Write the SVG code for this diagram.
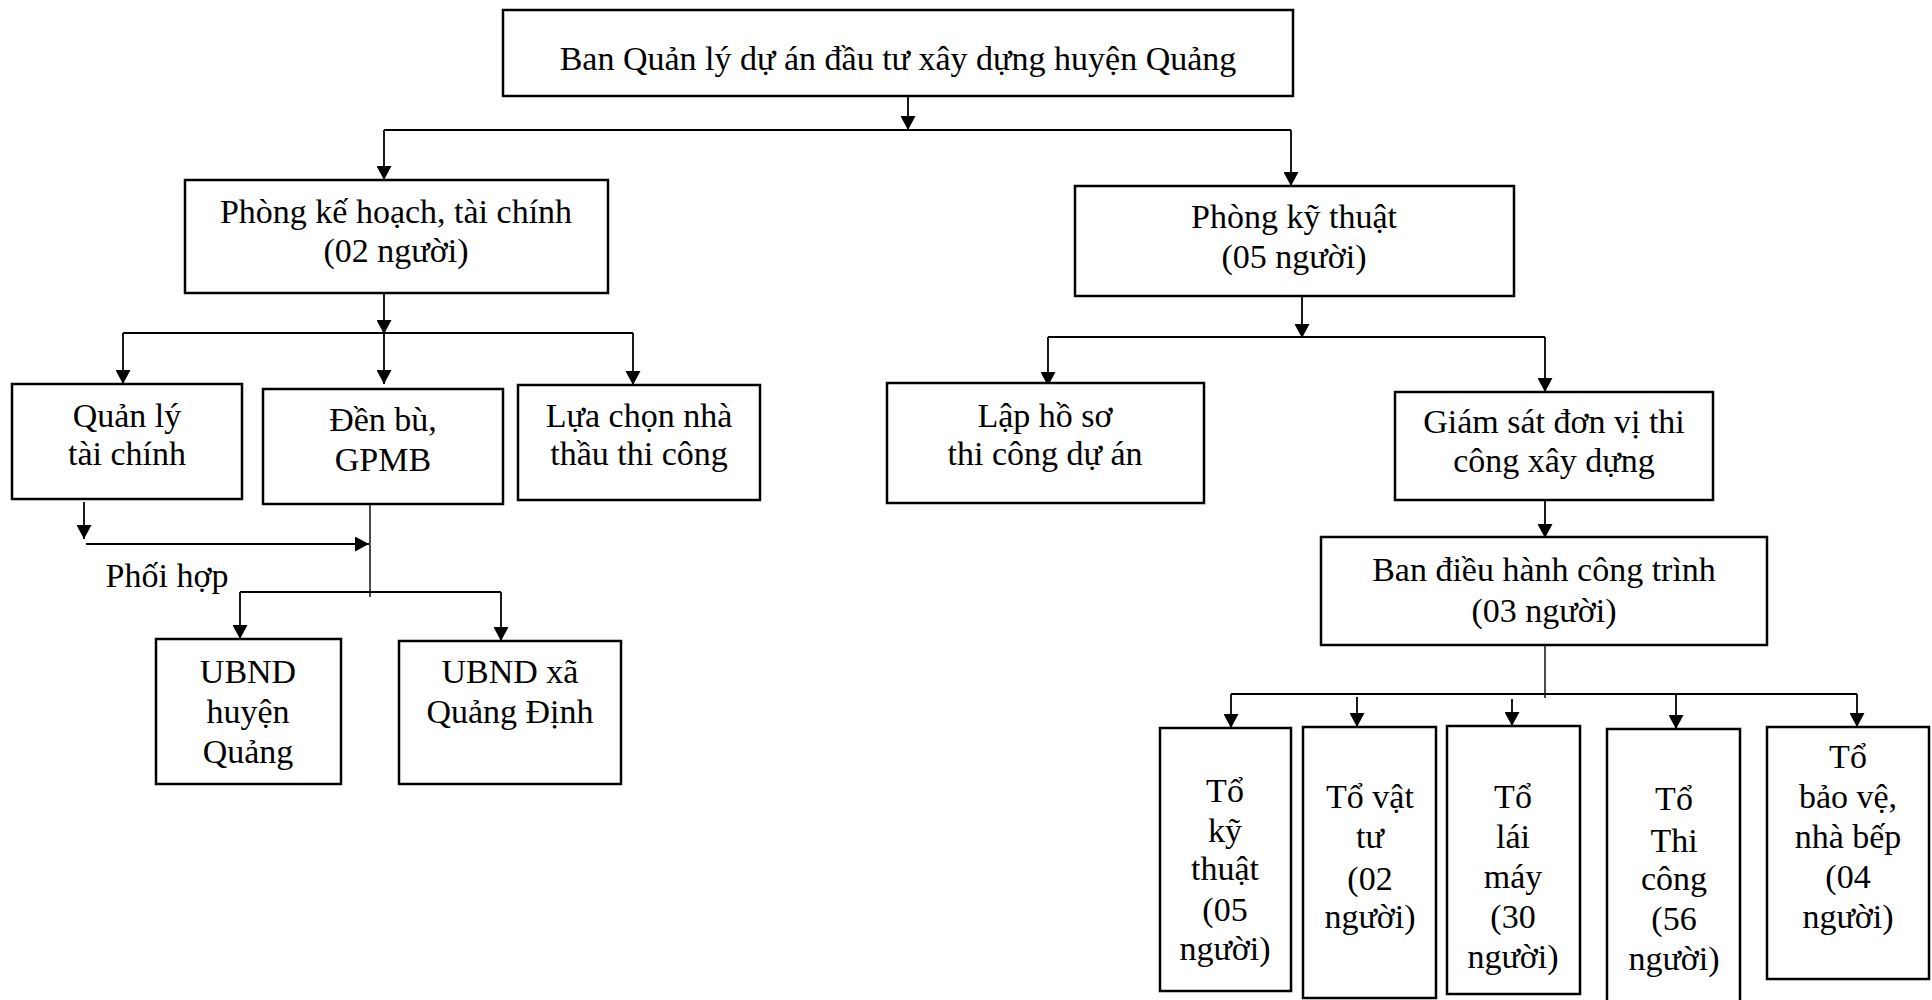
<svg xmlns="http://www.w3.org/2000/svg" width="1932" height="1000" viewBox="0 0 1932 1000">
<style>
.box{fill:#fff;stroke:#000;stroke-width:2.5}
.t{font-family:"Liberation Serif","Times New Roman",serif;font-size:34px;fill:#000;text-anchor:middle}
.c{fill:none;stroke:#000;stroke-width:2.2}
.a{fill:none;stroke:#000;stroke-width:1.8;marker-end:url(#ah)}
.thin{fill:none;stroke:#000;stroke-width:1.4}
</style>
<defs>
<marker id="ah" markerWidth="14" markerHeight="15" refX="14" refY="7.5" orient="auto" markerUnits="userSpaceOnUse" viewBox="0 0 14 15"><path d="M0,0 L14,7.5 L0,15 z" fill="#000"/></marker>
</defs>
<rect width="1932" height="1000" fill="#fff"/>

<g id="connectors">
<line x1="850" y1="86" x2="875" y2="86" stroke="#ccc" stroke-width="1" stroke-dasharray="8,5"/>
<line class="a" x1="908" y1="89" x2="908" y2="130"/>
<polyline class="c" points="384,130 1291,130"/>
<line class="a" x1="384" y1="130" x2="384" y2="180"/>
<line class="a" x1="1291" y1="130" x2="1291" y2="186"/>

<line class="a" x1="384" y1="284" x2="384" y2="334"/>
<polyline class="c" points="123,333 633,333"/>
<line class="a" x1="123" y1="333" x2="123" y2="384"/>
<line class="a" x1="384" y1="333" x2="384" y2="384"/>
<line class="a" x1="633" y1="333" x2="633" y2="385"/>

<line class="a" x1="84" y1="502" x2="84" y2="539"/>
<line class="a" x1="86" y1="544" x2="369" y2="544"/>
<line class="thin" x1="370" y1="504" x2="370" y2="597"/>
<polyline class="c" points="240,592 501,592"/>
<line class="a" x1="240" y1="592" x2="240" y2="639"/>
<line class="a" x1="501" y1="592" x2="501" y2="641"/>

<line class="a" x1="1302" y1="288" x2="1302" y2="338"/>
<polyline class="c" points="1048,337 1545,337"/>
<line class="a" x1="1048" y1="337" x2="1048" y2="386"/>
<line class="a" x1="1545" y1="337" x2="1545" y2="392"/>

<line class="a" x1="1545" y1="500" x2="1545" y2="538"/>
<line class="thin" x1="1545" y1="645" x2="1545" y2="698"/>
<polyline class="c" points="1231,694 1857,694"/>
<line class="a" x1="1231" y1="694" x2="1231" y2="728"/>
<line class="a" x1="1357" y1="697" x2="1357" y2="727"/>
<line class="a" x1="1512" y1="699" x2="1512" y2="726"/>
<line class="a" x1="1676" y1="694" x2="1676" y2="729"/>
<line class="a" x1="1857" y1="694" x2="1857" y2="727"/>
</g>

<g id="n-top"><rect class="box" x="503" y="10" width="790" height="86"/><text class="t" x="898" y="70">Ban Quản lý dự án đầu tư xây dựng huyện Quảng</text></g>

<g id="n-pkh"><rect class="box" x="185" y="180" width="423" height="113"/><text class="t" x="396" y="223">Phòng kế hoạch, tài chính</text><text class="t" x="396" y="262">(02 người)</text></g>

<g id="n-pkt"><rect class="box" x="1075" y="186" width="439" height="110"/><text class="t" x="1294" y="228">Phòng kỹ thuật</text><text class="t" x="1294" y="268">(05 người)</text></g>

<g id="n-qltc"><rect class="box" x="12" y="384" width="230" height="115"/><text class="t" x="127" y="427">Quản lý</text><text class="t" x="127" y="465">tài chính</text></g>

<g id="n-dbgpmb"><rect class="box" x="263" y="389" width="240" height="115"/><text class="t" x="383" y="431">Đền bù,</text><text class="t" x="383" y="471">GPMB</text></g>

<g id="n-lcnt"><rect class="box" x="518" y="385" width="242" height="115"/><text class="t" x="639" y="427">Lựa chọn nhà</text><text class="t" x="639" y="465">thầu thi công</text></g>

<g id="n-phoihop"><text class="t" x="167" y="587">Phối hợp</text></g>

<g id="n-ubndh"><rect class="box" x="156" y="639" width="185" height="145"/><text class="t" x="248" y="683">UBND</text><text class="t" x="248" y="723">huyện</text><text class="t" x="248" y="763">Quảng</text></g>

<g id="n-ubndx"><rect class="box" x="399" y="641" width="222" height="143"/><text class="t" x="510" y="683">UBND xã</text><text class="t" x="510" y="723">Quảng Định</text></g>

<g id="n-lhs"><rect class="box" x="887" y="383" width="317" height="120"/><text class="t" x="1045" y="427">Lập hồ sơ</text><text class="t" x="1045" y="465">thi công dự án</text></g>

<g id="n-gs"><rect class="box" x="1395" y="392" width="318" height="108"/><text class="t" x="1554" y="433">Giám sát đơn vị thi</text><text class="t" x="1554" y="472">công xây dựng</text></g>

<g id="n-bdh"><rect class="box" x="1321" y="537" width="446" height="108"/><text class="t" x="1544" y="581">Ban điều hành công trình</text><text class="t" x="1544" y="622">(03 người)</text></g>

<g id="n-tkt"><rect class="box" x="1160" y="728" width="131" height="263"/><text class="t" x="1225" y="802">Tổ</text><text class="t" x="1225" y="842">kỹ</text><text class="t" x="1225" y="880">thuật</text><text class="t" x="1225" y="921">(05</text><text class="t" x="1225" y="960">người)</text></g>

<g id="n-tvt"><rect class="box" x="1303" y="727" width="133" height="271"/><text class="t" x="1370" y="808">Tổ vật</text><text class="t" x="1370" y="848">tư</text><text class="t" x="1370" y="890">(02</text><text class="t" x="1370" y="928">người)</text></g>

<g id="n-tlm"><rect class="box" x="1447" y="726" width="133" height="268"/><text class="t" x="1513" y="808">Tổ</text><text class="t" x="1513" y="848">lái</text><text class="t" x="1513" y="888">máy</text><text class="t" x="1513" y="928">(30</text><text class="t" x="1513" y="968">người)</text></g>

<g id="n-ttc"><rect class="box" x="1607" y="729" width="133" height="280"/><text class="t" x="1674" y="810">Tổ</text><text class="t" x="1674" y="852">Thi</text><text class="t" x="1674" y="890">công</text><text class="t" x="1674" y="930">(56</text><text class="t" x="1674" y="970">người)</text></g>

<g id="n-tbv"><rect class="box" x="1767" y="727" width="162" height="252"/><text class="t" x="1848" y="768">Tổ</text><text class="t" x="1848" y="808">bảo vệ,</text><text class="t" x="1848" y="848">nhà bếp</text><text class="t" x="1848" y="888">(04</text><text class="t" x="1848" y="928">người)</text></g>
</svg>
